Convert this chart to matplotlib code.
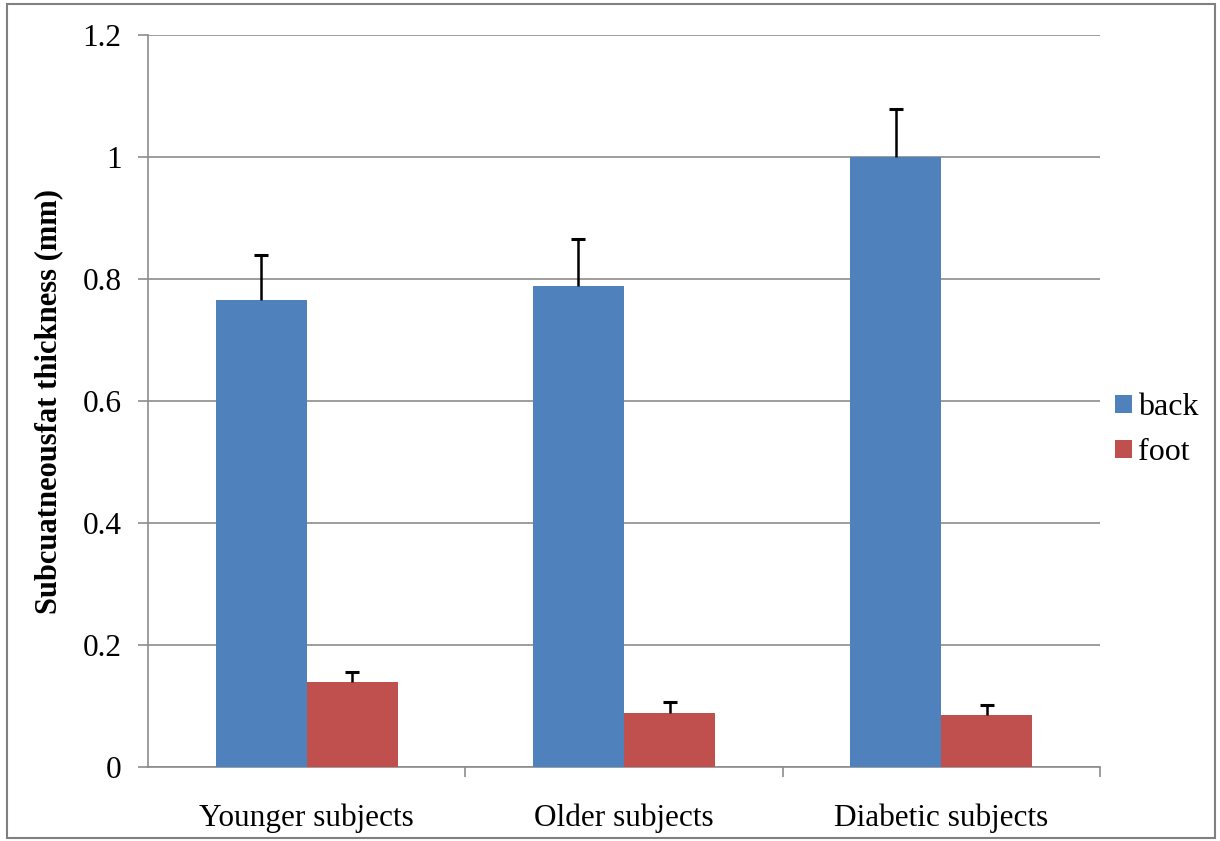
import matplotlib
matplotlib.use("Agg")
import matplotlib.pyplot as plt
import numpy as np
from matplotlib.patches import Rectangle

categories = ["Younger subjects", "Older subjects", "Diabetic subjects"]
series_names = ["back", "foot"]
back_values = [0.765, 0.788, 1.0]
back_errors = [0.074, 0.078, 0.078]
foot_values = [0.140, 0.089, 0.086]
foot_errors = [0.015, 0.018, 0.016]
y_ticks = [0, 0.2, 0.4, 0.6, 0.8, 1, 1.2]
y_tick_labels = ["0", "0.2", "0.4", "0.6", "0.8", "1", "1.2"]

plt.rcParams['font.family'] = ['Liberation Serif', 'DejaVu Serif']

fig = plt.figure(figsize=(12.2, 8.41), dpi=100)
ax = fig.add_axes([148/1220, 74/841, (1100-148)/1220, (767-35)/841])

x = np.arange(len(categories))
w = 0.287
blue = "#4F81BD"
red = "#C0504D"
ax.bar(x - w/2, back_values, w, color=blue, label=series_names[0], zorder=3)
ax.bar(x + w/2, foot_values, w, color=red, label=series_names[1], zorder=3)

for xs, vals, errs in [(x - w/2, back_values, back_errors), (x + w/2, foot_values, foot_errors)]:
    vals = np.array(vals)
    errs = np.array(errs)
    ax.errorbar(xs, vals, yerr=[np.zeros(3), errs], fmt='none',
                ecolor='black', elinewidth=1.8, capsize=0, zorder=4)
    ax.plot(xs, vals + errs, linestyle='none', marker='_', markersize=10,
            markeredgewidth=2.2, color='black', zorder=4)

ax.set_xlim(-0.5, 2.5)
ax.set_ylim(0, 1.2)
ax.set_yticks(y_ticks)
ax.set_yticklabels(y_tick_labels)
ax.yaxis.grid(True, color="#8c8c8c", linewidth=1.2, zorder=0)
ax.set_axisbelow(True)

ax.set_xticks(x)
ax.set_xticklabels(categories)
ax.set_xticks([0.5, 1.5, 2.5], minor=True)
ax.tick_params(axis='x', which='major', length=0, pad=26, labelsize=22.5)
ax.tick_params(axis='x', which='minor', length=7, color="#8c8c8c", width=1.2)
ax.tick_params(axis='y', length=7, color="#8c8c8c", width=1.2, labelsize=22.5, pad=12)

for s in ['top', 'right']:
    ax.spines[s].set_visible(False)
for s in ['left', 'bottom']:
    ax.spines[s].set_color("#8c8c8c")
    ax.spines[s].set_linewidth(1.2)

ax.set_ylabel("Subcuatneousfat thickness (mm)", fontsize=22, fontweight='bold', labelpad=14)

leg = fig.legend(loc='center left', bbox_to_anchor=(1102/1220, 1 - 430/841), frameon=False,
                 fontsize=23, handlelength=0.53, handleheight=0.5, handletextpad=0.2,
                 labelspacing=0.5, borderaxespad=0)

fig.patches.append(Rectangle((7/1220, 3/841), 1208/1220, 834/841, transform=fig.transFigure,
                             fill=False, edgecolor="#808080", linewidth=1.5))

fig.savefig("out.png", dpi=100)
